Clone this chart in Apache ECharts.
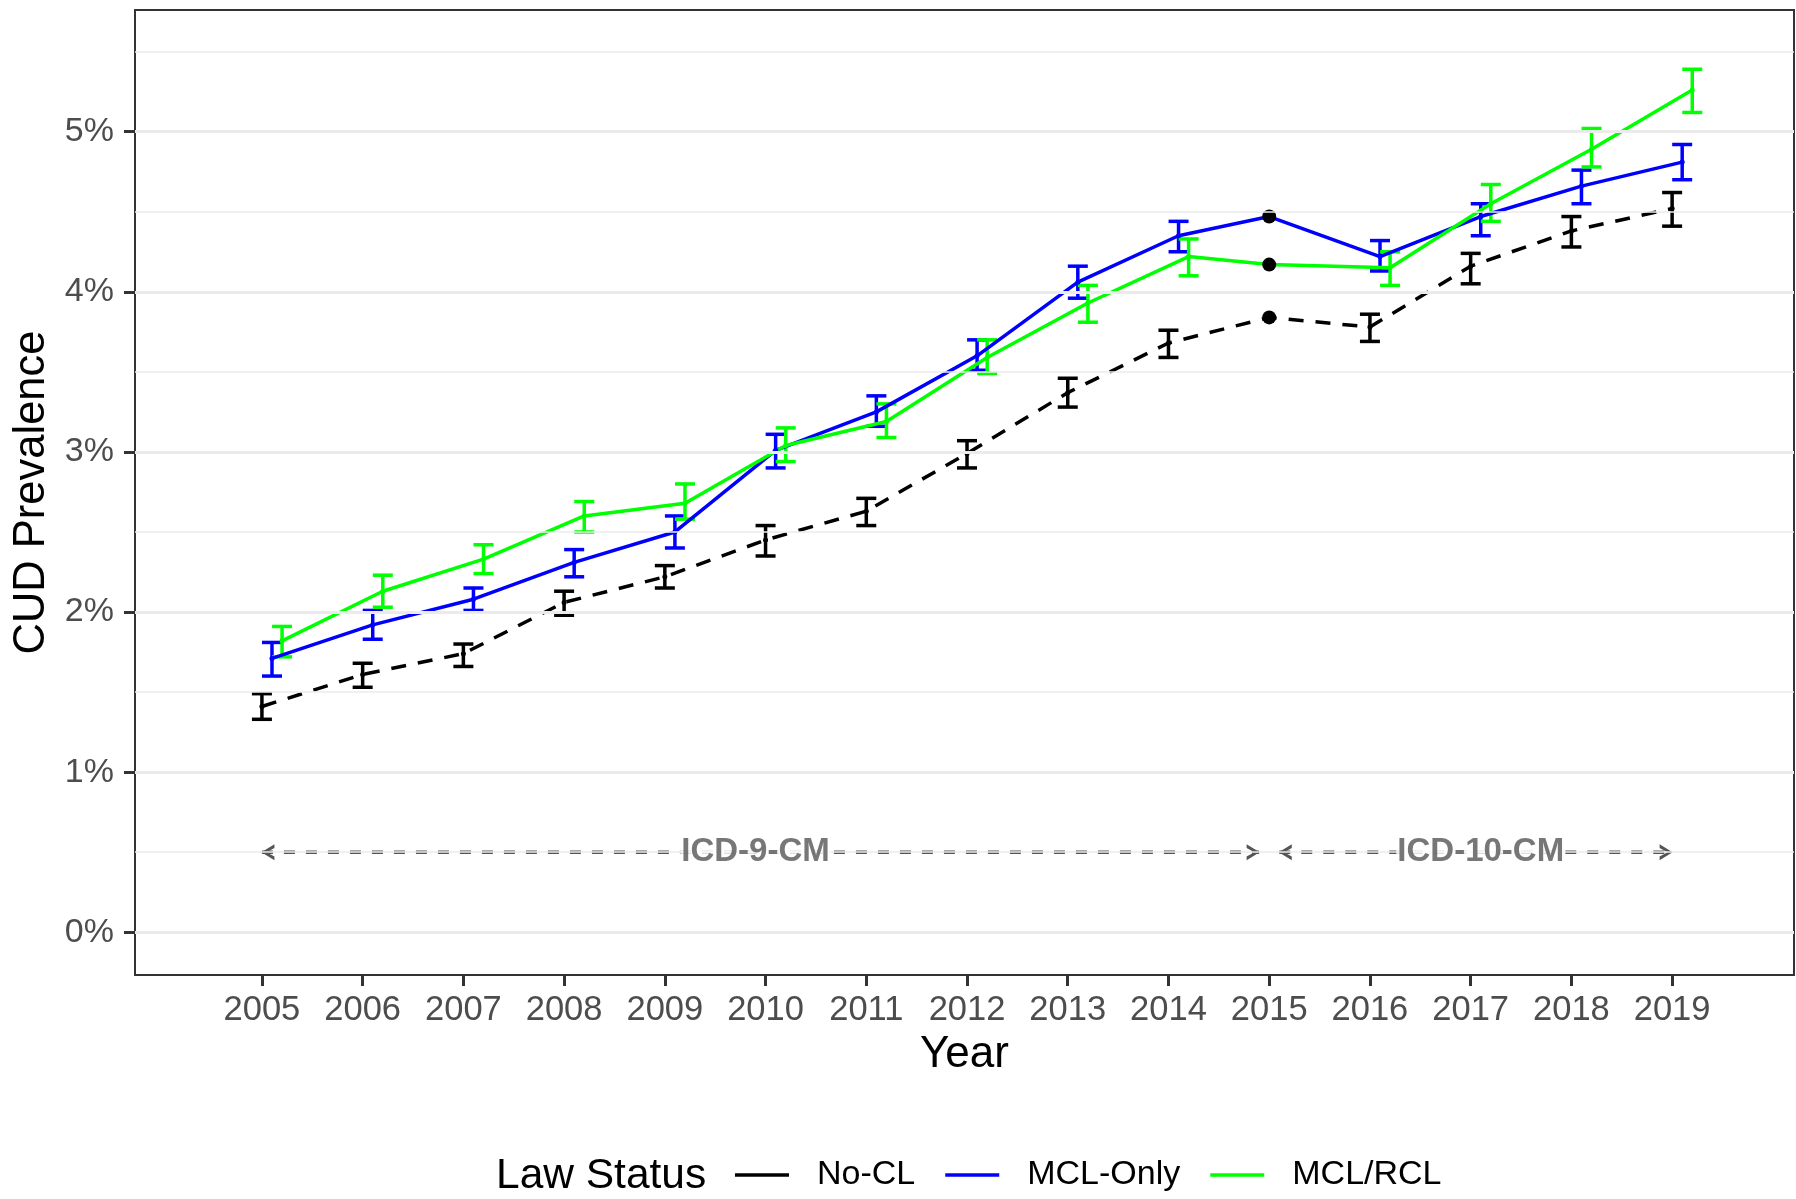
<!DOCTYPE html>
<html>
<head>
<meta charset="utf-8">
<script src="https://cdn.jsdelivr.net/npm/echarts@6/dist/echarts.min.js"></script>
<style>
html,body{margin:0;padding:0;background:#fff;}
#c{width:1796px;height:1199px;}
</style>
</head>
<body>
<div id="c"></div>
<script>
// ---------------- data ----------------
const years = [2005,2006,2007,2008,2009,2010,2011,2012,2013,2014,2015,2016,2017,2018,2019];

const noCL    = [1.41,1.61,1.74,2.06,2.22,2.45,2.63,2.99,3.37,3.68,3.84,3.78,4.16,4.38,4.52];
const noCLLo  = [1.33,1.53,1.66,1.98,2.15,2.35,2.54,2.90,3.28,3.59,null,3.69,4.05,4.28,4.41];
const noCLHi  = [1.49,1.68,1.80,2.13,2.29,2.54,2.71,3.07,3.46,3.76,null,3.86,4.24,4.47,4.62];

const mclOnly   = [1.71,1.92,2.08,2.31,2.50,3.01,3.25,3.60,4.06,4.35,4.47,4.22,4.47,4.66,4.81];
const mclOnlyLo = [1.60,1.83,2.01,2.22,2.40,2.90,3.16,3.51,3.96,4.25,null,4.13,4.35,4.55,4.70];
const mclOnlyHi = [1.81,2.01,2.15,2.39,2.60,3.11,3.35,3.70,4.16,4.44,null,4.32,4.55,4.76,4.92];

const mclRcl   = [1.82,2.13,2.33,2.60,2.68,3.04,3.19,3.59,3.93,4.22,4.17,4.15,4.55,4.89,5.26];
const mclRclLo = [1.72,2.03,2.24,2.50,2.58,2.94,3.09,3.49,3.81,4.10,null,4.04,4.44,4.78,5.12];
const mclRclHi = [1.91,2.23,2.42,2.69,2.80,3.15,3.30,3.70,4.04,4.33,null,4.25,4.67,5.02,5.39];

const seriesNames = ['No-CL','MCL-Only','MCL/RCL'];
const yTicks = [0,1,2,3,4,5];
const yMinorGrid = [0.5,1.5,2.5,3.5,4.5,5.5];

// coding-period annotations (data units)
const icdLevel = 0.5;
const icdNames = ['ICD-9-CM','ICD-10-CM'];
const icdFrom  = [2005, 2015.1];
const icdTo    = [2014.9, 2019];
const icdLabelAt = [2009.9, 2017.1];

// ---------------- styling ----------------
const FONT = "'Liberation Sans', Arial, Helvetica, sans-serif";
const colors = ['#000000','#0000ff','#00ff00'];
const dodge = [0, 0.1, 0.2];
const ANN = '#555555';
const leftChev  = 'path://M13,0 L0,8 L13,16 L13,12.2 L5.2,8 L13,3.8 Z';
const rightChev = 'path://M0,0 L13,8 L0,16 L0,12.2 L7.8,8 L0,3.8 Z';

const groups = [
  {val:noCL, lo:noCLLo, hi:noCLHi},
  {val:mclOnly, lo:mclOnlyLo, hi:mclOnlyHi},
  {val:mclRcl, lo:mclRclLo, hi:mclRclHi}
];

const series = [];

// gridlines (drawn through the y scale)
series.push({
  type:'line', name:'_grid', data:[], z:0, silent:true, animation:false,
  markLine:{
    silent:true, symbol:'none', animation:false, label:{show:false},
    data: yTicks.map(v=>({yAxis:v, lineStyle:{color:'#ebebeb', width:3, type:'solid'}}))
      .concat(yMinorGrid.map(v=>({yAxis:v, lineStyle:{color:'#ebebeb', width:1.5, type:'solid'}})))
  }
});

groups.forEach((g, k) => {
  const xs = years.map((y,i)=> g.lo[i]==null ? y : y + dodge[k]);
  series.push({
    type:'line', name:seriesNames[k], z:3,
    color: colors[k],
    symbol:'circle', symbolSize:5, showSymbol:true,
    lineStyle:{color:colors[k], width:3.5, type: k===0 ? [15,12] : 'solid'},
    itemStyle:{color:colors[k]},
    data: years.map((y,i)=> g.lo[i]==null
      ? {value:[xs[i], g.val[i]], symbolSize:14, itemStyle:{color:'#000'}}
      : {value:[xs[i], g.val[i]]})
  });
  series.push({
    type:'custom', name:seriesNames[k]+' CI', z:3,
    renderItem:(params, api)=>{
      const x = api.value(0), l = api.value(1), h = api.value(2);
      const a = api.coord([x,l]), b = api.coord([x,h]);
      const hw = 10;
      const st = {stroke:colors[k], lineWidth:3.5};
      return {type:'group', children:[
        {type:'line', shape:{x1:a[0],y1:a[1],x2:b[0],y2:b[1]}, style:st},
        {type:'line', shape:{x1:a[0]-hw,y1:a[1],x2:a[0]+hw,y2:a[1]}, style:st},
        {type:'line', shape:{x1:b[0]-hw,y1:b[1],x2:b[0]+hw,y2:b[1]}, style:st}
      ]};
    },
    encode:{x:0, y:[1,2]},
    data: years.map((y,i)=> g.lo[i]==null ? null : [y + dodge[k], g.lo[i], g.hi[i]]).filter(d=>d)
  });
});

// annotation arrows
icdNames.forEach((nm, j)=>{
  series.push({
    type:'line', name:'_ann'+j, z:4, silent:true,
    lineStyle:{color:ANN, width:3.6, type:[11,11]},
    itemStyle:{color:ANN},
    showSymbol:true,
    data:[
      {value:[icdFrom[j], icdLevel], symbol:leftChev, symbolSize:[13,16], symbolOffset:[6,0]},
      {value:[icdTo[j], icdLevel], symbol:rightChev, symbolSize:[13,16], symbolOffset:[-6,0]}
    ]
  });
});
series.push({
  type:'scatter', name:'_annLabel', z:5, silent:true,
  symbolSize:1, itemStyle:{color:'rgba(0,0,0,0)'},
  label:{show:true, position:'inside', formatter:'{b}', fontFamily:FONT, fontSize:33, fontWeight:'bold',
         color:ANN, backgroundColor:'#ffffff', padding:[0,1]},
  data: icdNames.map((nm,j)=>({name:nm, value:[icdLabelAt[j], icdLevel]}))
});

const option = {
  animation:false,
  backgroundColor:'#ffffff',
  textStyle:{fontFamily:FONT},
  title:{
    text:'Law Status', left:496, top:1155, padding:0,
    textStyle:{fontFamily:FONT, fontSize:42.5, fontWeight:'normal', color:'#000'}
  },
  legend:{
    data: seriesNames, left:735, top:1158, padding:0,
    icon:'rect', itemWidth:54, itemHeight:3.5, itemGap:30,
    textStyle:{fontFamily:FONT, fontSize:34, color:'#000', padding:[0,0,0,23]}
  },
  grid:{left:135, right:2, top:10, bottom:224, show:true, borderColor:'#333333', borderWidth:2, backgroundColor:'#fff', containLabel:false},
  xAxis:{
    type:'value', min:2003.74, max:2020.21,
    axisLine:{show:true, onZero:false, lineStyle:{color:'#333', width:2}},
    axisTick:{show:true, length:11, customValues:years, lineStyle:{color:'#333', width:3}},
    axisLabel:{customValues:years, margin:18, fontFamily:FONT, fontSize:34.5, color:'#4d4d4d', formatter:v=>String(v)},
    splitLine:{show:false},
    name:'Year', nameLocation:'middle', nameGap:58,
    nameTextStyle:{fontFamily:FONT, fontSize:44, color:'#000'}
  },
  yAxis:{
    type:'value', min:-0.267, max:5.76,
    axisLine:{show:true, onZero:false, lineStyle:{color:'#333', width:2}},
    axisTick:{show:true, length:11, customValues:yTicks, lineStyle:{color:'#333', width:3}},
    axisLabel:{customValues:yTicks, margin:21, fontFamily:FONT, fontSize:34, color:'#4d4d4d', formatter:v=>v+'%'},
    splitLine:{show:false},
    name:'CUD Prevalence', nameLocation:'middle', nameGap:80, nameRotate:90,
    nameTextStyle:{fontFamily:FONT, fontSize:43.5, color:'#000'}
  },
  series: series
};

const chart = echarts.init(document.getElementById('c'), null, {renderer:'canvas'});
chart.setOption(option);
</script>
</body>
</html>
